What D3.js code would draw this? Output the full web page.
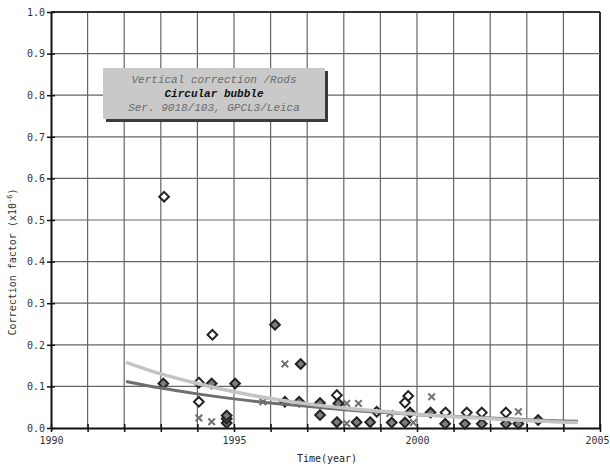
<!DOCTYPE html>
<html><head><meta charset="utf-8">
<script src="https://cdn.jsdelivr.net/npm/d3@7"></script>
<style>body{margin:0;background:#fff}svg{display:block}</style>
</head><body><svg id="c" width="610" height="468"></svg>
<script>
// ---- data ----
const xTicks = [1990,1991,1992,1993,1994,1995,1996,1997,1998,1999,2000,2001,2002,2003,2004,2005];
const xLabels = [1990,1995,2000,2005];
const yTicks = [0,0.1,0.2,0.3,0.4,0.5,0.6,0.7,0.8,0.9,1.0];

// diamonds: [year, value, filled(1)/open(0)]
const diamondYears  = [1993.09,1993.07,1994.41,1994.04,1994.04,1994.39,1995.03,1994.80,1994.80,1994.80,1996.12,1996.82,1996.39,1996.78,1997.35,1997.35,1997.81,1997.85,1997.81,1998.35,1998.72,1998.90,1999.31,1999.67,1999.76,1999.67,1999.81,2000.37,2000.78,2000.77,2001.36,2001.31,2001.77,2001.77,2002.43,2002.43,2002.77,2003.31];
const diamondValues = [0.556,0.107,0.224,0.109,0.063,0.107,0.107,0.012,0.022,0.030,0.248,0.154,0.063,0.063,0.060,0.031,0.079,0.059,0.014,0.014,0.014,0.039,0.013,0.013,0.077,0.061,0.037,0.037,0.037,0.010,0.037,0.010,0.037,0.010,0.037,0.010,0.010,0.019];
const diamondFilled = [0,1,0,0,0,1,1,1,1,1,1,1,1,1,1,1,0,1,1,1,1,0,1,1,0,0,1,1,0,1,0,1,0,1,0,1,1,1];

const crossYears  = [1994.04,1994.39,1996.39,1995.79,1998.08,1998.40,1998.08,1999.26,1999.90,2000.40,2002.77];
const crossValues = [0.024,0.015,0.154,0.063,0.059,0.059,0.011,0.035,0.013,0.075,0.039];

const trendYears = [1992.05,1993,1994,1995,1996,1997,1998,1999,2000,2001,2002,2003,2004,2004.4];
const trendLight = [0.158,0.130,0.107,0.087,0.071,0.058,0.048,0.040,0.033,0.027,0.022,0.018,0.014,0.013];
const trendDark  = [0.112,0.096,0.082,0.070,0.060,0.052,0.044,0.038,0.032,0.028,0.024,0.020,0.017,0.016];

const boxLines = ["Vertical correction /Rods","Circular bubble","Ser. 9018/103, GPCL3/Leica"];

// ---- drawing ----
const svg = d3.select("#c");
const L=51, R=600, T=12, B=428;
const x = d3.scaleLinear().domain([1990,2005]).range([L,R]);
const y = d3.scaleLinear().domain([0,1]).range([B,T]);

// grid
const g = svg.append("g");
g.selectAll(".vg").data(xTicks.slice(1)).enter().append("line")
  .attr("x1",d=>x(d)).attr("x2",d=>x(d)).attr("y1",T).attr("y2",B)
  .attr("stroke",d=>d===2005?"#333":"#666").attr("stroke-width",d=>d===2005?2:1.2);
g.selectAll(".hg").data(yTicks.slice(1)).enter().append("line")
  .attr("y1",d=>y(d)).attr("y2",d=>y(d)).attr("x1",L).attr("x2",R)
  .attr("stroke",d=>d===1?"#333":"#666").attr("stroke-width",d=>d===1?2:1.2);

// axes
const xAxis = d3.axisBottom(x).tickValues(xTicks).tickSizeInner(4).tickSizeOuter(0)
  .tickFormat(d=>xLabels.includes(d)?String(d):"");
const ax = svg.append("g").attr("transform",`translate(0,${B})`).call(xAxis);
ax.select(".domain").attr("stroke","#111").attr("stroke-width",2);
ax.selectAll(".tick line").attr("stroke","#111").attr("stroke-width",1.5).attr("y1",-4);
ax.selectAll(".tick text").attr("font-family","DejaVu Sans Mono").attr("font-size",10).attr("fill","#333").attr("dy","0.9em")
  .filter(d=>d===2005).attr("text-anchor","end").attr("dx",9);

const yAxis = d3.axisLeft(y).tickValues(yTicks).tickSizeInner(4).tickSizeOuter(0).tickFormat(d3.format(".1f"));
const ay = svg.append("g").attr("transform",`translate(${L},0)`).call(yAxis);
ay.select(".domain").attr("stroke","#111").attr("stroke-width",2);
ay.selectAll(".tick line").attr("stroke","#111").attr("stroke-width",1.5).attr("x1",4);
ay.selectAll(".tick text").attr("font-family","DejaVu Sans Mono").attr("font-size",10).attr("fill","#333").attr("x",-6);

// axis titles
svg.append("text").attr("x",327).attr("y",462).attr("text-anchor","middle")
  .attr("font-family","DejaVu Sans Mono").attr("font-size",10).attr("fill","#222").text("Time(year)");
const yl = svg.append("text").attr("transform","translate(16,262) rotate(-90)").attr("text-anchor","middle")
  .attr("font-family","DejaVu Sans Mono").attr("font-size",10).attr("fill","#333");
yl.append("tspan").text("Correction factor (x10");
yl.append("tspan").attr("font-size",7).attr("dy",-4).text("-6");
yl.append("tspan").attr("dy",4).text(")");

// markers
const pts = diamondYears.map((t,i)=>({t,v:diamondValues[i],f:diamondFilled[i]}));
const sym = d3.symbol().type(d3.symbolDiamond2).size(60);
svg.append("g").selectAll("path").data(pts).enter().append("path")
  .attr("d",sym).attr("transform",d=>`translate(${x(d.t)},${y(d.v)})`)
  .attr("fill",d=>d.f?"#7e7e7e":"#fff").attr("stroke","#222").attr("stroke-width",2);
const cps = crossYears.map((t,i)=>({t,v:crossValues[i]}));
const csym = d3.symbol().type(d3.symbolX).size(30);
svg.append("g").selectAll("path").data(cps).enter().append("path")
  .attr("d",csym).attr("transform",d=>`translate(${x(d.t)},${y(d.v)})`)
  .attr("fill","none").attr("stroke","#707070").attr("stroke-width",2);

// trend curves
const line = (vals)=>d3.line().x((d,i)=>x(trendYears[i])).y(d=>y(d)).curve(d3.curveMonotoneX)(vals);
svg.append("path").attr("d",line(trendDark)).attr("fill","none").attr("stroke","#6e6e6e").attr("stroke-width",3);
svg.append("path").attr("d",line(trendLight)).attr("fill","none").attr("stroke","#c4c4c4").attr("stroke-width",3.5);

// legend box
const bx=103, by=68, bw=222, bh=51;
svg.append("rect").attr("x",bx+3).attr("y",by+3).attr("width",bw).attr("height",bh).attr("fill","#3a3a3a");
svg.append("rect").attr("x",bx).attr("y",by).attr("width",bw).attr("height",bh).attr("fill","#c9c9c9");
const styles = [{c:"#6a6a6a",w:"normal"},{c:"#111",w:"bold"},{c:"#6a6a6a",w:"normal"}];
boxLines.forEach((s,i)=>{
  svg.append("text").attr("x",bx+bw/2).attr("y",by+15+i*14).attr("text-anchor","middle")
    .attr("font-family","Liberation Mono").attr("font-style","italic").attr("font-weight",styles[i].w)
    .attr("font-size",11).attr("fill",styles[i].c).text(s);
});
</script></body></html>
